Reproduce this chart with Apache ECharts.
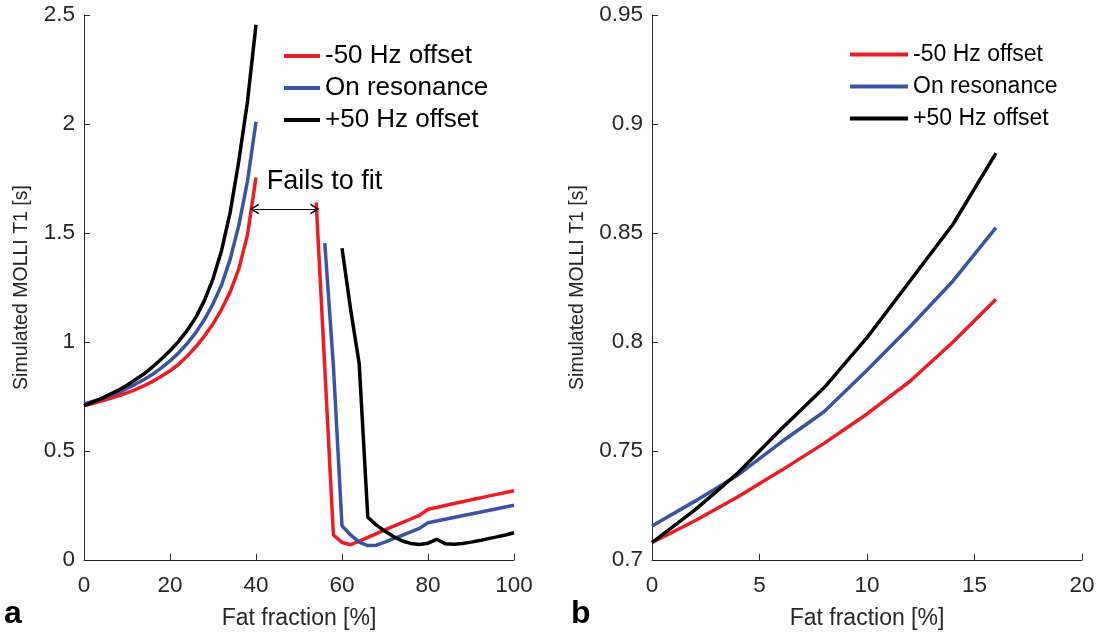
<!DOCTYPE html>
<html>
<head>
<meta charset="utf-8">
<script src="https://cdn.jsdelivr.net/npm/echarts@6/dist/echarts.min.js"></script>
<style>
  html, body { margin: 0; padding: 0; background: #fff; }
  #chart { width: 1098px; height: 635px; }
</style>
</head>
<body>
<div id="chart"></div>
<script>
// fat fraction [%] and simulated MOLLI T1 [s]
var ffLow = [0, 2, 4, 6, 8, 10, 12, 14, 16, 18, 20, 22, 24, 26, 28, 30, 32, 34, 36, 38, 40];
var redLow = [0.708, 0.718, 0.729, 0.741, 0.7535, 0.767, 0.782, 0.800, 0.8196, 0.843, 0.868, 0.898, 0.935, 0.978, 1.027, 1.083, 1.15, 1.23, 1.335, 1.49, 1.755];
var blueLow = [0.7156, 0.727, 0.739, 0.754, 0.768, 0.787, 0.807, 0.828, 0.8525, 0.881, 0.913, 0.95, 0.993, 1.043, 1.103, 1.175, 1.262, 1.38, 1.535, 1.735, 2.01];
var blackLow = [0.708, 0.724, 0.740, 0.760, 0.779, 0.802, 0.828, 0.854, 0.8866, 0.922, 0.96, 1.003, 1.053, 1.113, 1.19, 1.29, 1.42, 1.595, 1.83, 2.1, 2.455];

var ffHigh = [54, 56, 58, 60, 62, 64, 66, 68, 70, 72, 74, 76, 78, 80, 82, 84, 86, 88, 90, 92, 94, 96, 98, 100];
var redHigh = [1.64, 0.88, 0.115, 0.08, 0.07, 0.087, 0.104, 0.121, 0.138, 0.155, 0.171, 0.188, 0.205, 0.233, 0.241, 0.25, 0.259, 0.267, 0.276, 0.284, 0.293, 0.301, 0.31, 0.318];
var blueHigh = [null, 1.453, 0.89, 0.157, 0.115, 0.082, 0.066, 0.068, 0.082, 0.098, 0.113, 0.129, 0.145, 0.171, 0.179, 0.187, 0.195, 0.203, 0.211, 0.219, 0.227, 0.235, 0.243, 0.251];
var blackHigh = [null, null, null, 1.43, 1.15, 0.9, 0.196, 0.16, 0.132, 0.108, 0.087, 0.076, 0.071, 0.077, 0.095, 0.075, 0.072, 0.076, 0.082, 0.089, 0.098, 0.106, 0.115, 0.125];

var ffRight = [0, 2, 4, 6, 8, 10, 12, 14, 16];
var redRight = [0.708, 0.718, 0.729, 0.741, 0.7535, 0.767, 0.782, 0.800, 0.8196];
var blueRight = [0.7156, 0.727, 0.739, 0.754, 0.768, 0.787, 0.807, 0.828, 0.8525];
var blackRight = [0.708, 0.723, 0.740, 0.760, 0.779, 0.802, 0.828, 0.854, 0.8866];

var names = ['-50 Hz offset', 'On resonance', '+50 Hz offset'];
var colors = ['#ed1c24', '#3a53a4', '#000000'];
var font = 'Liberation Sans, Arial, sans-serif';
var ink = '#262626';
// open chevron used for both ends of the "fails to fit" arrow
var chevron = 'path://M5,0 L10,10 L8.4,10 L5,3.2 L1.6,10 L0,10 Z';

function pairs(xs, ys) {
  var out = [];
  for (var i = 0; i < xs.length; i++) {
    if (ys[i] != null) out.push([xs[i], ys[i]]);
  }
  return out;
}

function lineSeries(name, color, xs, ys, axis) {
  return {
    type: 'line',
    name: name,
    xAxisIndex: axis,
    yAxisIndex: axis,
    data: pairs(xs, ys),
    showSymbol: false,
    symbol: 'none',
    lineStyle: { color: color, width: 3.5 },
    itemStyle: { color: color },
    animation: false
  };
}

function xAxis(idx, max, interval) {
  return {
    gridIndex: idx,
    type: 'value',
    min: 0,
    max: max,
    interval: interval,
    name: 'Fat fraction [%]',
    nameLocation: 'middle',
    nameGap: 47,
    nameTextStyle: { fontSize: 23, color: ink, fontFamily: font },
    axisLine: { show: true, lineStyle: { color: ink, width: 1 } },
    axisTick: { show: true, inside: true, length: 6, lineStyle: { color: ink } },
    axisLabel: { fontSize: 22.5, color: ink, fontFamily: font, margin: 14 },
    splitLine: { show: false }
  };
}

function yAxis(idx, min, max, interval, gap) {
  return {
    gridIndex: idx,
    type: 'value',
    min: min,
    max: max,
    interval: interval,
    name: 'Simulated MOLLI T1 [s]',
    nameLocation: 'middle',
    nameGap: gap,
    nameTextStyle: { fontSize: 19.5, color: ink, fontFamily: font },
    axisLine: { show: true, lineStyle: { color: ink, width: 1 } },
    axisTick: { show: true, inside: true, length: 6, lineStyle: { color: ink } },
    axisLabel: { fontSize: 22.5, color: ink, fontFamily: font, margin: 9 },
    splitLine: { show: false }
  };
}

function legend(left, iconWidth, size, gap) {
  return {
    left: left,
    top: 38,
    orient: 'vertical',
    data: names,
    icon: 'rect',
    itemWidth: iconWidth,
    itemHeight: 4,
    itemGap: gap,
    selectedMode: false,
    textStyle: { fontSize: size, color: '#000', fontFamily: font, lineHeight: 22 }
  };
}

var series = [];
series.push(lineSeries(names[0], colors[0], ffLow, redLow, 0));
series.push(lineSeries(names[1], colors[1], ffLow, blueLow, 0));
series.push(lineSeries(names[2], colors[2], ffLow, blackLow, 0));
series.push(lineSeries(names[0], colors[0], ffHigh, redHigh, 0));
series.push(lineSeries(names[1], colors[1], ffHigh, blueHigh, 0));
series.push(lineSeries(names[2], colors[2], ffHigh, blackHigh, 0));
series.push(lineSeries(names[0], colors[0], ffRight, redRight, 1));
series.push(lineSeries(names[1], colors[1], ffRight, blueRight, 1));
series.push(lineSeries(names[2], colors[2], ffRight, blackRight, 1));

// "fails to fit" arrow and label on the left panel
series[0].markLine = {
  silent: true,
  symbol: [chevron, chevron],
  symbolSize: [11, 9],
  label: { show: false },
  lineStyle: { color: '#000', width: 1.2, type: 'solid' },
  data: [[{ coord: [39.6, 1.61] }, { coord: [53.7, 1.61] }]],
  animation: false
};
series[0].markPoint = {
  silent: true,
  symbol: 'circle',
  symbolSize: 0,
  label: {
    show: true,
    position: 'right',
    distance: 0,
    formatter: 'Fails to fit',
    fontSize: 27,
    color: '#000',
    fontFamily: font
  },
  data: [{ coord: [42.5, 1.735] }],
  animation: false
};

var chart = echarts.init(document.getElementById('chart'), null, { renderer: 'canvas' });
chart.setOption({
  backgroundColor: '#fff',
  animation: false,
  grid: [
    { left: 84, top: 15, width: 430, height: 545 },
    { left: 652, top: 15, width: 430, height: 545 }
  ],
  xAxis: [xAxis(0, 100, 20), xAxis(1, 20, 5)],
  yAxis: [yAxis(0, 0, 2.5, 0.5, 52), yAxis(1, 0.7, 0.95, 0.05, 64)],
  legend: [legend(279, 36, 26, 6), legend(845, 58, 23, 9)],
  graphic: [
    { type: 'text', left: 4, top: 598, style: { text: 'a', fontSize: 32, fontWeight: 'bold', fill: '#000', fontFamily: font } },
    { type: 'text', left: 571, top: 598, style: { text: 'b', fontSize: 32, fontWeight: 'bold', fill: '#000', fontFamily: font } }
  ],
  series: series
});
</script>
</body>
</html>
